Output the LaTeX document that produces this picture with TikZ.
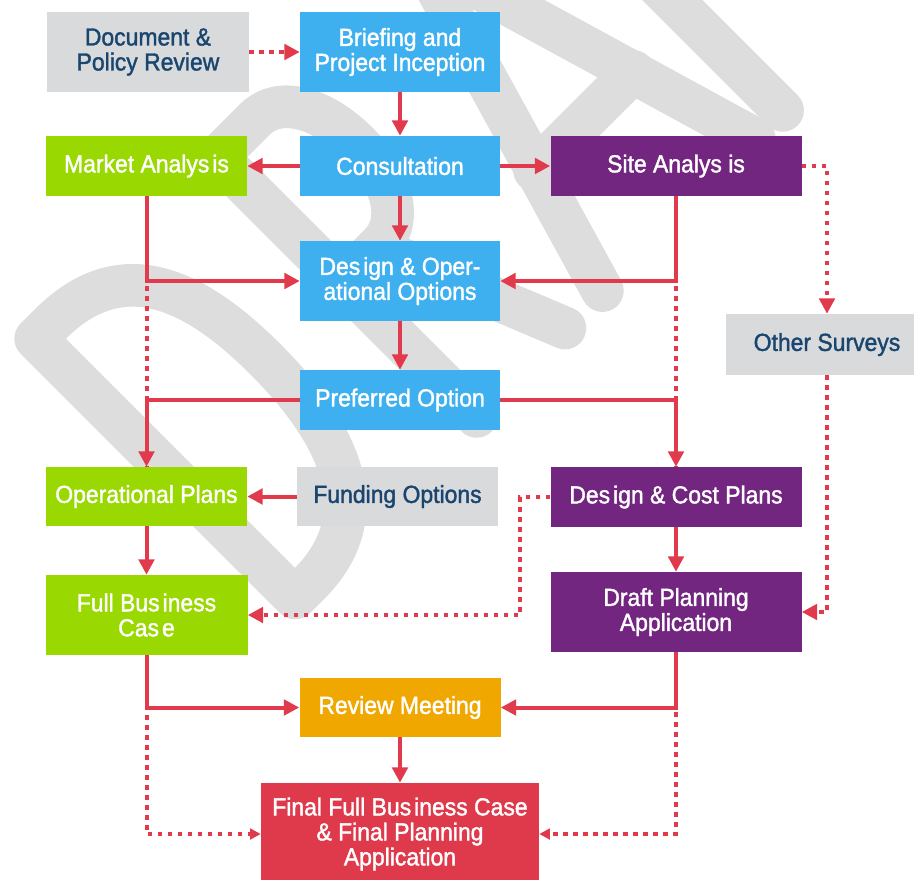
\documentclass[tikz,border=0pt]{standalone}
\usepackage{fontspec}
\setmainfont{Liberation Sans}[FakeStretch=0.93, FakeBold=1.5]
\usetikzlibrary{arrows.meta}
\definecolor{cblue}{RGB}{63,176,239}
\definecolor{cgreen}{RGB}{153,216,0}
\definecolor{cpurple}{RGB}{114,38,128}
\definecolor{cgrayb}{RGB}{217,218,220}
\definecolor{cnavy}{RGB}{26,69,110}
\definecolor{corange}{RGB}{240,168,0}
\definecolor{cred}{RGB}{223,58,75}
\definecolor{cline}{RGB}{224,58,76}
\definecolor{cwm}{RGB}{221,221,221}
\newcommand{\wgap}{\hspace{0.12em}}
\begin{document}
\begin{tikzpicture}[x=0.75pt,y=-0.75pt,
  box/.style={inner sep=0pt, align=center, text=white, font=\fontsize{18.5pt}{18.75pt}\selectfont},
  bluebox/.style={box, fill=cblue},
  greenbox/.style={box, fill=cgreen},
  purplebox/.style={box, fill=cpurple},
  graybox/.style={box, fill=cgrayb, text=cnavy},
  orangebox/.style={box, fill=corange},
  redbox/.style={box, fill=cred},
  con/.style={draw=cline, line width=3pt},
  arr/.style={con, -{Triangle[length=11.5pt,width=11.5pt]}},
  dotc/.style={draw=cline, line width=3pt, dash pattern=on 3.5pt off 4pt},
  dotarr/.style={dotc, -{Triangle[length=11.5pt,width=11.5pt]}},
  dotarrs/.style={dotc, -{Triangle[length=8pt,width=8pt]}},
  wm/.style={draw=cwm, line width=32pt, line cap=round, line join=round}
]
\useasboundingbox (0,0) rectangle (914,879);
\clip (0,0) rectangle (914,879);

% watermark
\begin{scope}[shift={(295,598)}, x={(0.53pt,0.53pt)}, y={(-0.53pt,0.53pt)}]
  \draw[wm] (0,0) -- (0,367) -- (20,367) .. controls (115,367) and (148,300) .. (148,190) .. controls (148,80) and (115,0) .. (20,0) -- cycle;
  \draw[wm] (257,0) -- (257,367) -- (310,367) .. controls (385,367) and (385,190) .. (310,190) -- (257,190);
  \draw[wm] (305,190) -- (382,0);
  \draw[wm] (435,0) -- (542,367) -- (650,0);
  \draw[wm] (472,133) -- (612,133);
  \draw[wm] (690,0) -- (690,367) -- (850,367);
  \draw[wm] (690,190) -- (820,190);
  \draw[wm] (870,367) -- (1080,367);
  \draw[wm] (975,367) -- (975,0);
\end{scope}

% nodes
\node (doc) [graybox, minimum width=151.5pt, minimum height=60pt] at (148,52) {Document \&\\Policy Review};
\node (brief) [bluebox, minimum width=150pt, minimum height=60pt] at (400,52) {Briefing and\\Project Inception};
\node (consult) [bluebox, minimum width=150pt, minimum height=45pt] at (400,166) {Consultation};
\node (market) [greenbox, minimum width=150.75pt, minimum height=45pt] at (146.5,166) {Market Analys\wgap is};
\node (site) [purplebox, minimum width=188.25pt, minimum height=45pt] at (676,166) {Site Analys is};
\node (design) [bluebox, minimum width=150pt, minimum height=60pt] at (400,281) {Des\wgap ign \& Oper-\\ational Options};
\node (other) [graybox, minimum width=151.5pt, minimum height=45.75pt] at (827,344.5) {Other Surveys};
\node (preferred) [bluebox, minimum width=150pt, minimum height=45pt] at (400,400) {Preferred Option};
\node (opplans) [greenbox, minimum width=150.75pt, minimum height=44.25pt] at (146.5,496.5) {Operational Plans};
\node (funding) [graybox, minimum width=150.75pt, minimum height=44.25pt] at (397.5,496.5) {Funding Options};
\node (dcost) [purplebox, minimum width=188.25pt, minimum height=45pt] at (676,497) {Des\wgap ign \& Cost Plans};
\node (fbc) [greenbox, minimum width=151.5pt, minimum height=60pt] at (146.5,615) {Full Bus\wgap iness\\Cas\wgap e};
\node (draft) [purplebox, minimum width=188.25pt, minimum height=60pt] at (676,612) {Draft Planning\\Application};
\node (review) [orangebox, minimum width=150.75pt, minimum height=44.25pt] at (400,707.5) {Review Meeting};
\node (final) [redbox, minimum width=208.5pt, minimum height=76.5pt] at (400,834) {Final Full Bus\wgap iness Case\\\& Final Planning\\Application};

% dotted connectors (underneath)
\draw[dotc] (market.south) -- (opplans.north);
\draw[dotc] (site.south) -- (dcost.north);
\draw[dotarr] (doc.east) -- (brief.west);
\draw[dotarr] (site.east) -| (other.north);
\draw[dotarr] (other.south) |- (draft.east);
\draw[dotarr] (dcost.west) -- ++(-30,0) |- (fbc.east);
\draw[dotarrs] (fbc.south) |- (final.west);
\draw[dotarrs] (draft.south) |- (final.east);

% solid connectors
\draw[arr] (brief) -- (consult);
\draw[arr] (consult) -- (market);
\draw[arr] (consult) -- (site);
\draw[arr] (consult) -- (design);
\draw[arr] (market.south) |- (design.west);
\draw[arr] (site.south) |- (design.east);
\draw[arr] (design) -- (preferred);
\draw[arr] (preferred.west) -| (opplans.north);
\draw[arr] (preferred.east) -| (dcost.north);
\draw[arr] (funding) -- (opplans);
\draw[arr] (opplans) -- (fbc);
\draw[arr] (dcost) -- (draft);
\draw[arr] (fbc.south) |- (review.west);
\draw[arr] (draft.south) |- (review.east);
\draw[arr] (review) -- (final);
\end{tikzpicture}
\end{document}
